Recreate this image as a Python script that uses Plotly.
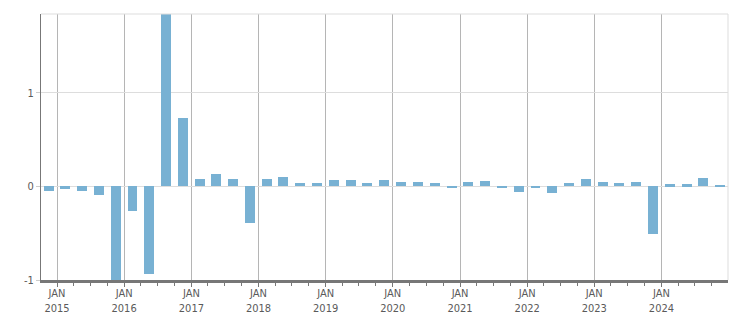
import pandas as pd
import plotly.graph_objects as go

quarters = ["2014Q4",
            "2015Q1", "2015Q2", "2015Q3", "2015Q4",
            "2016Q1", "2016Q2", "2016Q3", "2016Q4",
            "2017Q1", "2017Q2", "2017Q3", "2017Q4",
            "2018Q1", "2018Q2", "2018Q3", "2018Q4",
            "2019Q1", "2019Q2", "2019Q3", "2019Q4",
            "2020Q1", "2020Q2", "2020Q3", "2020Q4",
            "2021Q1", "2021Q2", "2021Q3", "2021Q4",
            "2022Q1", "2022Q2", "2022Q3", "2022Q4",
            "2023Q1", "2023Q2", "2023Q3", "2023Q4",
            "2024Q1", "2024Q2", "2024Q3", "2024Q4"]
values = [-0.05,
          -0.03, -0.05, -0.09, -1.0,
          -0.26, -0.94, 1.95, 0.73,
          0.075, 0.13, 0.075, -0.39,
          0.075, 0.096, 0.032, 0.032,
          0.064, 0.064, 0.032, 0.064,
          0.043, 0.043, 0.032, -0.01,
          0.043, 0.054, -0.01, -0.064,
          -0.01, -0.075, 0.032, 0.075,
          0.043, 0.032, 0.043, -0.514,
          0.021, 0.021, 0.086, 0.011]
years = list(range(2015, 2025))
tick_vals = [f"{y}-01-01" for y in years]
tick_text = [f"JAN<br>{y}" for y in years]
y_ticks = [-1, 0, 1]

# mid-quarter dates
x_dates = [p.start_time + (p.end_time - p.start_time) / 2
           for p in (pd.Period(q, freq="Q") for q in quarters)]

font = dict(family="DejaVu Sans Condensed, DejaVu Sans, Verdana, sans-serif",
            size=11, color="#5a5a5a")

fig = go.Figure(go.Bar(
    x=x_dates, y=values,
    width=54 * 86400000,
    marker=dict(color="#78b1d3", line=dict(width=0)),
    hoverinfo="x+y",
))

fig.update_layout(
    width=751, height=313,
    margin=dict(l=41, r=23, t=14, b=33, autoexpand=False),
    paper_bgcolor="white", plot_bgcolor="white",
    showlegend=False,
    font=font,
    bargap=0,
    xaxis=dict(
        type="date",
        range=["2014-10-06", "2024-12-28"],
        tickmode="array", tickvals=tick_vals, ticktext=tick_text,
        showgrid=True, gridcolor="#b5b5b5", gridwidth=1,
        showline=True, linecolor="#777777", linewidth=3,
        ticks="outside", ticklen=4, tickcolor="#777777", tickwidth=1,
        tickfont=font,
        ticklabelstandoff=-3,
        automargin=False,
        minor=dict(tickmode="linear", tick0="2015-01-01", dtick="M3",
                   ticks="outside", ticklen=3, tickcolor="#777777",
                   showgrid=False),
        zeroline=False,
        fixedrange=True,
    ),
    yaxis=dict(
        range=[-1, 1.84],
        tickmode="array", tickvals=y_ticks, ticktext=[str(v) for v in y_ticks],
        showgrid=True, gridcolor="#dddddd", gridwidth=1,
        zeroline=True, zerolinecolor="#dddddd", zerolinewidth=1,
        showline=True, linecolor="#777777", linewidth=1,
        ticks="outside", ticklen=4, tickcolor="#cccccc",
        tickfont=font,
        automargin=False,
        fixedrange=True,
    ),
    shapes=[
        dict(type="line", xref="paper", yref="paper", x0=0, x1=1, y0=1, y1=1,
             line=dict(color="#dddddd", width=1)),
        dict(type="line", xref="paper", yref="paper", x0=1, x1=1, y0=0, y1=1,
             line=dict(color="#dddddd", width=1)),
    ],
)

fig.write_html("out.html")
